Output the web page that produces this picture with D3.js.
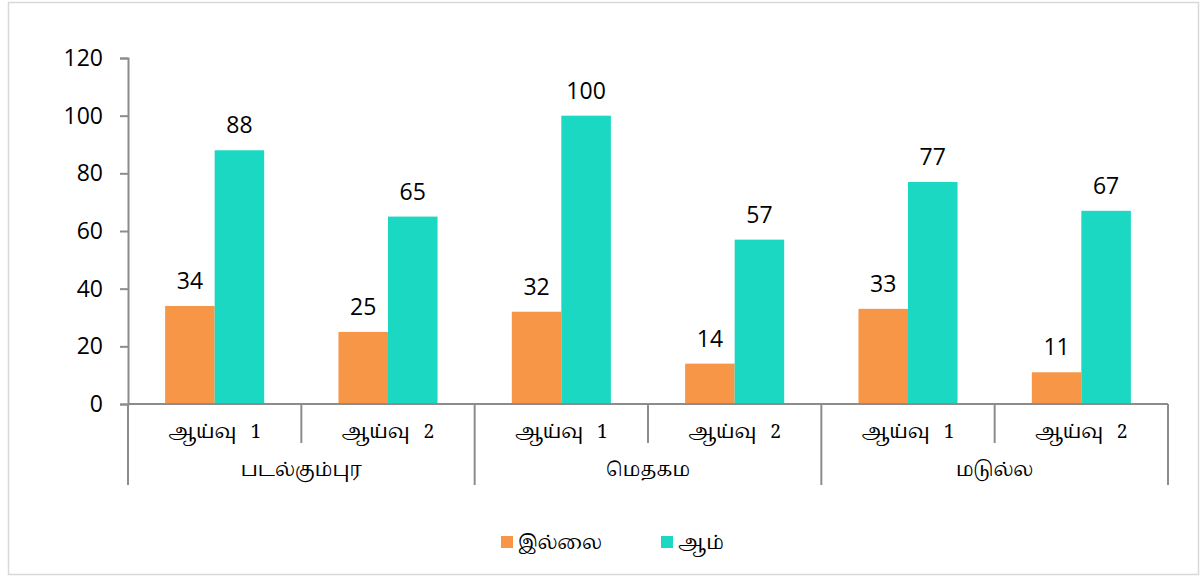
<!DOCTYPE html>
<html>
<head>
<meta charset="utf-8">
<script src="https://cdn.jsdelivr.net/npm/d3@7"></script>
<style>
  body { margin: 0; background: #fff; }
  .num { font-family: "Open Sans", "Noto Sans", sans-serif; font-size: 23px; fill: #000; }
  .ta { font-family: "Noto Serif Tamil", "Noto Sans Tamil", "Liberation Serif", serif; font-size: 19px; fill: #000; }
</style>
</head>
<body>
<svg id="chart" width="1201" height="577"></svg>
<script>
// data
const groups = ["படல்கும்புர", "மெதகம", "மடுல்ல"];
const studyWord = "ஆய்வு";
const studyNums = ["1", "2"];
const seriesNames = ["இல்லை", "ஆம்"];
const illai = [34, 25, 32, 14, 33, 11];
const aam = [88, 65, 100, 57, 77, 67];
const yTicks = [0, 20, 40, 60, 80, 100, 120];
const colors = ["#F79646", "#1AD8C2"];

const margin = {top: 58, left: 128, right: 33, bottom: 173};
const width = 1201 - margin.left - margin.right;
const height = 577 - margin.top - margin.bottom;

const svg = d3.select("#chart");

// outer frame
svg.append("rect")
    .attr("x", 8.5).attr("y", 2.5)
    .attr("width", 1190).attr("height", 572)
    .attr("fill", "#fff").attr("stroke", "#d9d9d9").attr("stroke-width", 1.5);

const g = svg.append("g")
    .attr("transform", "translate(" + margin.left + "," + margin.top + ")");

// one slot per group/study pair
const slots = [];
groups.forEach(function(grp, gi) {
    studyNums.forEach(function(st, si) {
        const i = gi * studyNums.length + si;
        slots.push({key: i, group: grp, study: st, values: [illai[i], aam[i]]});
    });
});

const x = d3.scaleBand()
    .domain(slots.map(d => d.key))
    .range([0, width])
    .paddingInner(0).paddingOuter(0);

const bw = x.bandwidth() / 3.5;
const xs = d3.scaleBand()
    .domain(seriesNames)
    .range([0.75 * bw, 2.75 * bw]);

const y = d3.scaleLinear()
    .domain([0, 120])
    .range([height, 0]);

// y axis
const yAxis = g.append("g")
    .call(d3.axisLeft(y).tickValues(yTicks).tickSize(8).tickPadding(17));
yAxis.select(".domain").attr("stroke", "#8c8c8c").attr("stroke-width", 2);
yAxis.selectAll(".tick line").attr("stroke", "#8c8c8c").attr("stroke-width", 2);
yAxis.selectAll(".tick text").attr("class", "num").attr("font-family", null).attr("font-size", null);

// bars
const slotG = g.selectAll(".slot")
    .data(slots)
    .enter().append("g")
    .attr("class", "slot")
    .attr("transform", d => "translate(" + x(d.key) + ",0)");

slotG.selectAll("rect")
    .data(d => d.values.map((v, k) => ({name: seriesNames[k], value: v, k: k})))
    .enter().append("rect")
    .attr("x", d => xs(d.name))
    .attr("width", xs.bandwidth())
    .attr("y", d => y(d.value))
    .attr("height", d => height - y(d.value))
    .attr("fill", d => colors[d.k]);

slotG.selectAll(".lbl")
    .data(d => d.values.map((v, k) => ({name: seriesNames[k], value: v})))
    .enter().append("text")
    .attr("class", "num")
    .attr("text-anchor", "middle")
    .attr("x", d => xs(d.name) + xs.bandwidth() / 2)
    .attr("y", d => y(d.value) - 17)
    .text(d => d.value);

// x axis line
g.append("line")
    .attr("x1", 0).attr("x2", width)
    .attr("y1", height).attr("y2", height)
    .attr("stroke", "#8c8c8c").attr("stroke-width", 2);

// separators: study boundaries short, group boundaries long
d3.range(slots.length + 1).forEach(function(i) {
    const isGroup = i % studyNums.length === 0;
    const xx = i === slots.length ? width : x(i);
    g.append("line")
        .attr("x1", xx).attr("x2", xx)
        .attr("y1", height).attr("y2", height + (isGroup ? 81 : 39))
        .attr("stroke", "#8c8c8c").attr("stroke-width", 2);
});

// study labels
const st = g.selectAll(".study")
    .data(slots)
    .enter().append("text")
    .attr("class", "ta")
    .attr("text-anchor", "middle")
    .attr("x", d => x(d.key) + x.bandwidth() / 2)
    .attr("y", height + 34);
st.append("tspan").text(studyWord);
st.append("tspan").attr("dx", 14).text(d => d.study);

// group labels
g.selectAll(".grp")
    .data(groups)
    .enter().append("text")
    .attr("class", "ta")
    .attr("text-anchor", "middle")
    .attr("x", (d, i) => x(i * studyNums.length) + x.bandwidth())
    .attr("y", height + 72)
    .text(d => d);

// legend
const legendX = [501, 661];
const legend = svg.selectAll(".leg")
    .data(seriesNames)
    .enter().append("g")
    .attr("transform", (d, i) => "translate(" + legendX[i] + ",536)");
legend.append("rect")
    .attr("width", 12).attr("height", 12)
    .attr("fill", (d, i) => colors[i]);
legend.append("text")
    .attr("class", "ta")
    .attr("x", 17).attr("y", 13)
    .text(d => d);
</script>
</body>
</html>
